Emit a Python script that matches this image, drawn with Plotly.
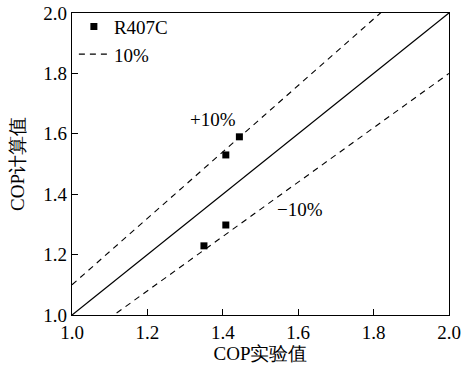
import plotly.graph_objects as go

# Data
exp_cop = [1.350, 1.408, 1.408, 1.444]
calc_cop = [1.229, 1.298, 1.530, 1.590]
line_x = [1.0, 2.0]
deviation = 0.10

fig = go.Figure()

# y = x
fig.add_trace(go.Scatter(x=line_x, y=line_x, mode="lines",
                         line=dict(color="black", width=1.3), showlegend=False))
# +10%
fig.add_trace(go.Scatter(x=line_x, y=[v * (1 + deviation) for v in line_x], mode="lines",
                         line=dict(color="black", width=1.1, dash="6px,5px"),
                         name="10%", showlegend=False))
# -10%
fig.add_trace(go.Scatter(x=line_x, y=[v * (1 - deviation) for v in line_x], mode="lines",
                         line=dict(color="black", width=1.1, dash="6px,5px"),
                         name="10%", showlegend=True))
# points
fig.add_trace(go.Scatter(x=exp_cop, y=calc_cop, mode="markers", name="R407C",
                         marker=dict(symbol="square", size=7, color="black")))

font_family = "Times New Roman, Liberation Serif, serif"

fig.add_annotation(x=1.374, y=1.649, text="+10%", showarrow=False,
                   font=dict(size=19, color="black", family=font_family))
fig.add_annotation(x=1.605, y=1.348, text="\u221210%", showarrow=False,
                   font=dict(size=19, color="black", family=font_family))

axis_common = dict(range=[1.0, 2.0], dtick=0.2, tickformat=".1f", ticks="inside",
                   ticklen=6, tickcolor="black", tickwidth=1, showgrid=False,
                   zeroline=False, showline=True, linecolor="black", linewidth=1.2,
                   mirror=True, automargin=False,
                   tickfont=dict(size=19, color="black", family=font_family))

fig.update_layout(
    width=463, height=370,
    margin=dict(l=72, r=14, t=13, b=55, autoexpand=False),
    paper_bgcolor="white", plot_bgcolor="white",
    font=dict(family=font_family, color="black", size=19),
    xaxis=dict(**axis_common, title=dict(text="COP实验值", standoff=2,
                                         font=dict(size=19, family=font_family))),
    yaxis=dict(**axis_common, title=dict(text="COP计算值", standoff=13,
                                         font=dict(size=19, family=font_family))),
    legend=dict(x=0.005, y=1.018, xanchor="left", yanchor="top", bgcolor="rgba(0,0,0,0)",
                traceorder="reversed", itemwidth=30, tracegroupgap=0,
                font=dict(size=19, family=font_family, color="black")),
)

fig.write_html("out.html")
